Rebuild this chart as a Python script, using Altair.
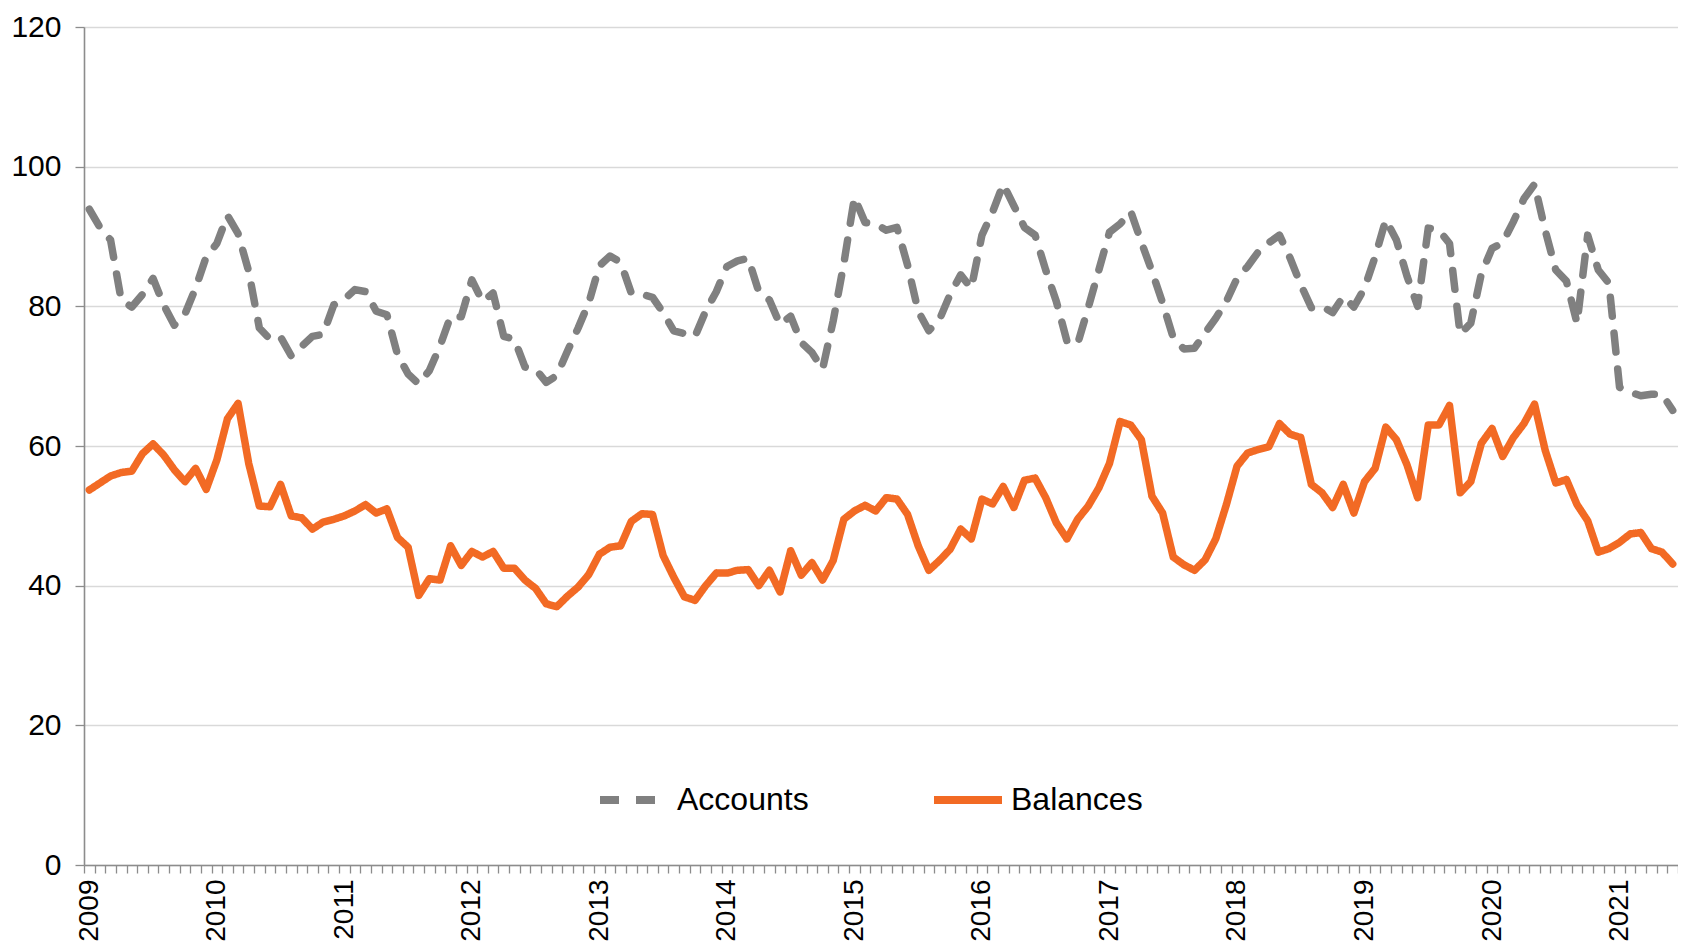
import altair as alt
import pandas as pd

# Monthly index values, Jan 2009 .. Jun 2021
start_year = 2009
years = list(range(2009, 2022))

accounts = [
    93.9, 91.3, 89.5, 80.9, 79.9, 81.7, 84.0, 80.2, 77.3, 78.9, 82.6, 87.1,
    89.0, 93.0, 90.4, 85.0, 76.9, 75.3, 75.6, 72.9, 74.3, 75.7, 76.0, 80.2,
    81.0, 82.4, 82.1, 79.3, 78.8, 73.1, 70.3, 68.9, 70.8, 74.3, 78.6, 78.5,
    83.8, 80.7, 81.9, 75.7, 75.3, 71.3, 71.0, 69.1, 70.1, 73.6, 76.9, 80.5,
    85.8, 87.2, 86.3, 81.9, 81.7, 81.3, 79.1, 76.5, 76.1, 75.7, 79.3, 82.1,
    85.7, 86.5, 86.9, 82.1, 80.9, 77.4, 78.6, 74.8, 73.4, 71.0, 77.9, 86.1,
    95.6, 92.0, 91.8, 90.9, 91.3, 85.9, 79.3, 76.5, 78.1, 81.7, 84.5, 82.6,
    90.2, 93.5, 97.5, 94.4, 91.3, 90.2, 85.2, 80.7, 75.0, 74.6, 79.8, 85.2,
    90.6, 91.8, 93.6, 89.2, 85.0, 80.5, 75.5, 73.9, 74.0, 76.2, 78.3, 80.7,
    84.0, 85.7, 87.8, 89.1, 90.2, 86.9, 83.1, 79.8, 80.0, 79.1, 81.4, 79.9,
    82.6, 87.1, 92.4, 89.5, 84.3, 80.0, 91.2, 90.9, 89.0, 76.0, 77.6, 84.7,
    88.3, 89.1, 92.1, 95.4, 97.5, 90.9, 85.2, 83.6, 77.6, 90.2, 85.2, 83.3,
    68.4, 67.7, 67.2, 67.4, 67.4, 65.1,
]

balances = [
    53.7, 54.7, 55.7, 56.2, 56.4, 58.9, 60.3, 58.7, 56.6, 54.9, 56.8, 53.8,
    58.0, 63.9, 66.1, 57.5, 51.4, 51.3, 54.5, 50.0, 49.7, 48.1, 49.1, 49.5,
    50.0, 50.7, 51.6, 50.4, 51.0, 46.9, 45.5, 38.6, 41.0, 40.8, 45.7, 42.9,
    44.9, 44.1, 44.9, 42.5, 42.5, 40.8, 39.6, 37.4, 37.0, 38.5, 39.8, 41.6,
    44.5, 45.5, 45.7, 49.2, 50.3, 50.2, 44.3, 41.2, 38.4, 37.9, 40.0, 41.8,
    41.8, 42.2, 42.3, 40.0, 42.2, 39.1, 45.0, 41.5, 43.3, 40.8, 43.6, 49.5,
    50.7, 51.5, 50.7, 52.6, 52.4, 50.2, 45.7, 42.2, 43.6, 45.2, 48.1, 46.7,
    52.4, 51.7, 54.2, 51.2, 55.1, 55.4, 52.6, 49.0, 46.7, 49.5, 51.4, 54.0,
    57.5, 63.5, 63.0, 60.9, 52.8, 50.4, 44.1, 43.0, 42.2, 43.7, 46.7, 51.6,
    57.1, 59.0, 59.5, 59.9, 63.2, 61.7, 61.2, 54.5, 53.3, 51.2, 54.5, 50.4,
    54.9, 56.8, 62.7, 60.9, 57.3, 52.6, 63.0, 63.0, 65.8, 53.3, 54.9, 60.4,
    62.5, 58.5, 61.2, 63.2, 66.0, 59.4, 54.7, 55.2, 51.6, 49.3, 44.8, 45.3,
    46.2, 47.4, 47.6, 45.3, 44.8, 43.1,
]

series_names = ["Accounts", "Balances"]
series_colors = ["#808080", "#F26A24"]
series_dashes = [[19, 17], [1, 0]]

n = len(accounts)
rows = []
for i in range(n):
    rows.append({"t": i, "series": "Accounts", "value": accounts[i]})
for i in range(n):
    rows.append({"t": i, "series": "Balances", "value": balances[i]})
df = pd.DataFrame(rows)

tick_values = [k - 0.5 for k in range(n + 1)]
label_map = " : ".join(
    f"datum.value == {12 * (y - start_year) - 0.5} ? '{y}'" for y in years
)
label_expr = label_map + " : ''"

FONT = "Liberation Sans"

legend_opts = dict(
    title=None,
    orient="none",
    direction="horizontal",
    legendX=512,
    legendY=735,
    symbolType="stroke",
    symbolSize=4624,
    symbolStrokeWidth=8,
    labelFontSize=32,
    labelFont=FONT,
    labelColor="#000000",
    labelOffset=5,
    columnPadding=109,
    labelLimit=400,
    padding=0,
)

chart = alt.Chart(df).mark_line(
    strokeWidth=7.5, strokeCap="round", strokeJoin="round"
).encode(
    x=alt.X(
        "t:Q",
        scale=alt.Scale(domain=[-0.5, n - 0.5], nice=False, zero=False),
        axis=alt.Axis(
            values=tick_values,
            labelExpr=label_expr,
            labelAngle=270,
            labelOffset=5.3,
            labelOverlap=False,
            labelFlush=False,
            labelBound=False,
            labelFontSize=28,
            labelFont=FONT,
            labelColor="#000000",
            labelPadding=6,
            tickSize=8,
            tickColor="#8C8C8C",
            tickWidth=1.3,
            domainColor="#8C8C8C",
            domainWidth=1.6,
            grid=False,
            title=None,
        ),
    ),
    y=alt.Y(
        "value:Q",
        scale=alt.Scale(domain=[0, 120], nice=False),
        axis=alt.Axis(
            values=[0, 20, 40, 60, 80, 100, 120],
            labelFontSize=30,
            labelFont=FONT,
            labelColor="#000000",
            labelPadding=14,
            tickSize=9,
            tickColor="#8C8C8C",
            tickWidth=1.3,
            domainColor="#8C8C8C",
            domainWidth=1.6,
            gridColor="#D9D9D9",
            gridWidth=1.4,
            title=None,
        ),
    ),
    color=alt.Color(
        "series:N",
        scale=alt.Scale(domain=series_names, range=series_colors),
        legend=alt.Legend(**legend_opts),
    ),
    strokeDash=alt.StrokeDash(
        "series:N",
        scale=alt.Scale(domain=series_names, range=series_dashes),
        legend=alt.Legend(**legend_opts),
    ),
    order="t:Q",
).properties(
    width=1594,
    height=838,
    autosize=alt.AutoSizeParams(type="none"),
    padding={"left": 76, "top": 19, "right": 0, "bottom": 77},
).configure_view(stroke=None).configure(background="#FFFFFF")

chart.save("out.html", embed_options={"renderer": "svg", "actions": False})
